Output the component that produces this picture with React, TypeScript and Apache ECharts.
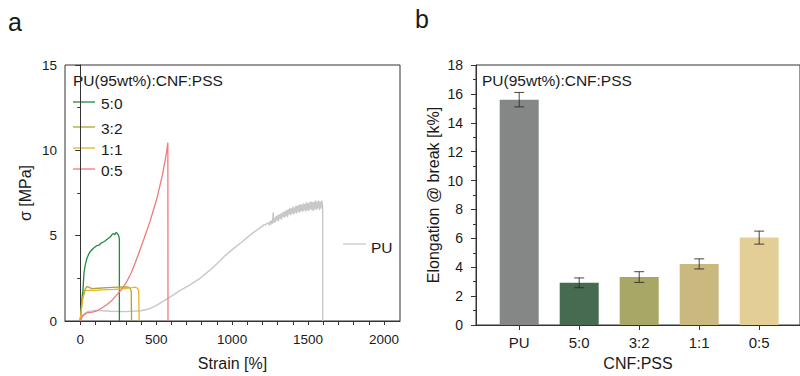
import React, { useEffect, useRef } from "react";
import * as echarts from "echarts";

// ---------- Panel a: stress-strain curves ----------
const curve50: number[][] = [
  [0, 0], [5, 0.5], [10, 1.1], [15, 1.6], [18, 1.75], [22, 2.4], [26, 2.9], [35, 3.35], [44, 3.66],
  [55, 3.9], [66, 4.07], [85, 4.25], [110, 4.42], [125, 4.45], [140, 4.58], [153, 4.63], [165, 4.7],
  [180, 4.8], [197, 4.92], [210, 5.08], [219, 5.12], [228, 5.05], [235, 5.18], [241, 5.17],
  [248, 5.08], [252, 5.02], [256, 4.9], [258, 4.8], [258, 0],
];
const curve32: number[][] = [
  [0, 0], [8, 0.8], [15, 1.3], [25, 1.7], [35, 1.9], [44, 2.02], [55, 1.98], [77, 1.9],
  [120, 1.92], [180, 1.95], [250, 1.98], [300, 2.0], [318, 1.99], [330, 1.9], [336, 1.72],
  [338, 0],
];
const curve11: number[][] = [
  [0, 0], [6, 0.5], [12, 1.0], [20, 1.4], [33, 1.78], [50, 1.8], [100, 1.8], [150, 1.82],
  [220, 1.85], [290, 1.9], [340, 1.95], [362, 1.98], [377, 1.92], [385, 1.75], [388, 0],
];
const curve05: number[][] = [
  [0, 0], [15, 0.3], [44, 0.47], [80, 0.52], [110, 0.6], [140, 0.75], [175, 0.95],
  [210, 1.22], [241, 1.53], [270, 1.82], [300, 2.2], [335, 2.8], [373, 3.66], [417, 4.75],
  [460, 5.85], [504, 7.15], [540, 8.5], [560, 9.45], [570, 10.0], [577, 10.45], [578, 0],
];
const curvePU: number[][] = [
  [0, 0], [10, 0.2], [20, 0.35], [35, 0.48], [50, 0.55], [100, 0.62], [150, 0.6], [200, 0.57],
  [300, 0.55], [400, 0.6], [450, 0.7], [500, 0.9], [570, 1.3], [614, 1.53], [650, 1.75],
  [720, 2.1], [789, 2.5], [850, 2.95], [900, 3.35], [950, 3.8], [1009, 4.24], [1060, 4.6],
  [1100, 4.9], [1150, 5.25], [1160, 5.3], [1170, 5.38], [1180, 5.42], [1190, 5.52], [1200, 5.55],
  [1210, 5.65], [1220, 5.62], [1230, 5.75],
  [1240, 5.72], [1245, 5.6], [1250, 5.85], [1255, 5.65], [1260, 5.9], [1265, 5.7], [1270, 6.35],
  [1275, 5.75], [1280, 6.05], [1285, 5.8], [1290, 6.15], [1295, 5.9], [1300, 6.2], [1305, 5.85],
  [1310, 6.25], [1315, 6.0], [1320, 6.3], [1325, 5.95], [1330, 6.35], [1335, 6.1], [1340, 6.4],
  [1345, 6.05], [1350, 6.45], [1355, 6.15], [1360, 6.5], [1365, 6.1], [1370, 6.55], [1375, 6.25],
  [1380, 6.6], [1385, 6.2], [1390, 6.6], [1395, 6.3], [1400, 6.7], [1405, 6.25], [1410, 6.65],
  [1415, 6.35], [1420, 6.75], [1425, 6.3], [1430, 6.75], [1435, 6.4], [1440, 6.8], [1445, 6.35],
  [1450, 6.85], [1455, 6.45], [1460, 6.8], [1465, 6.4], [1470, 6.9], [1475, 6.5], [1480, 6.85],
  [1485, 6.4], [1490, 6.95], [1495, 6.5], [1500, 6.9], [1505, 6.45], [1510, 6.95], [1515, 6.55],
  [1520, 7.0], [1525, 6.5], [1530, 6.95], [1535, 6.45], [1540, 7.0], [1545, 6.55], [1550, 7.05],
  [1555, 6.5], [1560, 7.0], [1565, 6.6], [1570, 7.05], [1575, 6.5], [1580, 7.0], [1585, 6.6],
  [1590, 7.05], [1596, 6.7], [1596, 0],
];
const curveNames = ["5:0", "3:2", "1:1", "0:5", "PU"];
const curveColors = ["#1e8c3c", "#a9a632", "#e6b52a", "#f07a7a", "#c8c8c8"];
const strainLabels = [0, 500, 1000, 1500, 2000];
const strainMinorTicks = [0, 100, 200, 300, 400, 500, 600, 700, 800, 900, 1000, 1100, 1200, 1300, 1400, 1500, 1600, 1700, 1800, 1900, 2000];

// ---------- Panel b: elongation at break ----------
const categories = ["PU", "5:0", "3:2", "1:1", "0:5"];
const elongation = [15.6, 2.92, 3.32, 4.23, 6.05];
const elongationErr = [0.5, 0.34, 0.37, 0.35, 0.45];
const barColors = ["#858786", "#476b50", "#a8a765", "#c9b97e", "#e3cf96"];

const FONT = "'Liberation Sans', Arial, sans-serif";
const TXT = "#1a1a1a";
const AX = "#333333";

export default function App() {
  const ref = useRef<HTMLDivElement>(null);
  useEffect(() => {
    document.body.style.margin = "0";
    const chart = echarts.init(ref.current!, null, { renderer: "svg" });
    const curves = [curve50, curve32, curve11, curve05, curvePU];

    const lineSeries = curves.map((c, i) => ({
      type: "line",
      name: curveNames[i],
      xAxisIndex: 0,
      yAxisIndex: 0,
      data: c,
      showSymbol: false,
      symbol: "none",
      lineStyle: { color: curveColors[i], width: i === 4 ? 1.4 : 1.3 },
      z: i === 4 ? 1 : 2 + i,
    }));

    const barData = elongation.map((v, i) => ({
      value: [i + 1, v],
      itemStyle: { color: barColors[i] },
    }));
    const errData = elongation.map((v, i) => [i + 1, v, elongationErr[i]]);

    const axisCommon = {
      axisLine: { show: true, lineStyle: { color: AX, width: 1 } },
      splitLine: { show: false },
    };

    chart.setOption({
      animation: false,
      textStyle: { fontFamily: FONT },
      grid: [
        { left: 65, top: 65, width: 335, height: 258, show: true, borderColor: AX, borderWidth: 1, containLabel: false },
        { left: 476, top: 65, width: 330, height: 265, show: true, borderColor: AX, borderWidth: 1, containLabel: false },
      ],
      xAxis: [
        {
          type: "value",
          gridIndex: 0,
          min: -100,
          max: 2105,
          ...axisCommon,
          axisTick: { show: true, length: 4, lineStyle: { color: AX }, customValues: strainMinorTicks },
          axisLabel: {
            customValues: strainLabels,
            formatter: (v: number) => String(v),
            color: TXT,
            fontSize: 13.5,
            margin: 11,
            fontFamily: FONT,
          },
          name: "Strain [%]",
          nameLocation: "middle",
          nameGap: 34,
          nameTextStyle: { color: TXT, fontSize: 16, fontFamily: FONT },
        },
        {
          type: "value",
          gridIndex: 1,
          min: 0.28,
          max: 5.68,
          ...axisCommon,
          axisTick: { show: true, length: 5, lineStyle: { color: AX }, customValues: [1, 2, 3, 4, 5] },
          axisLabel: {
            customValues: [1, 2, 3, 4, 5],
            formatter: (v: number) => categories[Math.round(v) - 1] ?? "",
            color: TXT,
            fontSize: 15,
            margin: 10,
            fontFamily: FONT,
          },
          name: "CNF:PSS",
          nameLocation: "middle",
          nameGap: 30,
          nameTextStyle: { color: TXT, fontSize: 16, fontFamily: FONT },
        },
      ],
      yAxis: [
        {
          type: "value",
          gridIndex: 0,
          min: 0,
          max: 15,
          interval: 5,
          ...axisCommon,
          axisTick: { show: true, length: 5, lineStyle: { color: AX } },
          minorTick: { show: true, splitNumber: 2, length: 3, lineStyle: { color: AX } },
          minorSplitLine: { show: false },
          axisLabel: { color: TXT, fontSize: 13.5, margin: 8, fontFamily: FONT },
          name: "σ [MPa]",
          nameLocation: "middle",
          nameGap: 32,
          nameTextStyle: { color: TXT, fontSize: 16, fontFamily: FONT },
        },
        {
          type: "value",
          gridIndex: 1,
          min: 0,
          max: 18,
          interval: 2,
          ...axisCommon,
          axisTick: { show: true, length: 5, lineStyle: { color: AX } },
          minorTick: { show: true, splitNumber: 2, length: 3, lineStyle: { color: AX } },
          minorSplitLine: { show: false },
          axisLabel: { color: TXT, fontSize: 14, margin: 13, fontFamily: FONT },
          name: "Elongation @ break [k%]",
          nameLocation: "middle",
          nameGap: 35,
          nameTextStyle: { color: TXT, fontSize: 16, fontFamily: FONT },
        },
      ],
      series: [
        ...lineSeries,
        {
          type: "bar",
          xAxisIndex: 1,
          yAxisIndex: 1,
          data: barData,
          barWidth: 39,
          z: 2,
        },
        {
          type: "custom",
          xAxisIndex: 1,
          yAxisIndex: 1,
          data: errData,
          z: 5,
          renderItem: (params: any, api: any) => {
            const x = api.value(0);
            const y = api.value(1);
            const e = api.value(2);
            const top = api.coord([x, y + e]);
            const bot = api.coord([x, y - e]);
            const hw = 5;
            const style = { stroke: "rgba(40,40,40,0.85)", lineWidth: 1 };
            return {
              type: "group",
              children: [
                { type: "line", shape: { x1: top[0], y1: top[1], x2: bot[0], y2: bot[1] }, style },
                { type: "line", shape: { x1: top[0] - hw, y1: top[1], x2: top[0] + hw, y2: top[1] }, style },
                { type: "line", shape: { x1: bot[0] - hw, y1: bot[1], x2: bot[0] + hw, y2: bot[1] }, style },
              ],
            };
          },
        },
      ],
      graphic: [
        { type: "text", left: 8, top: 9, style: { text: "a", fontSize: 25, fill: TXT, fontFamily: FONT } },
        { type: "text", left: 415, top: 6, style: { text: "b", fontSize: 25, fill: TXT, fontFamily: FONT } },
        { type: "text", x: 73, y: 80, style: { text: "PU(95wt%):CNF:PSS", fontSize: 15.5, fill: TXT, fontFamily: FONT, verticalAlign: "middle" } },
        { type: "text", x: 482, y: 80, style: { text: "PU(95wt%):CNF:PSS", fontSize: 15.5, fill: TXT, fontFamily: FONT, verticalAlign: "middle" } },
        ...[102, 127, 148, 169].flatMap((yy, i) => [
          { type: "line", shape: { x1: 73, y1: yy, x2: 95, y2: yy }, style: { stroke: curveColors[i], lineWidth: 1.3 } },
          { type: "text", x: 101, y: yy + 1, style: { text: curveNames[i], fontSize: 15.5, fill: TXT, fontFamily: FONT, verticalAlign: "middle" } },
        ]),
        { type: "line", shape: { x1: 343, y1: 244, x2: 366, y2: 244 }, style: { stroke: curveColors[4], lineWidth: 1.3 } },
        { type: "text", x: 371, y: 247, style: { text: "PU", fontSize: 15.5, fill: TXT, fontFamily: FONT, verticalAlign: "middle" } },
      ],
    });
    return () => chart.dispose();
  }, []);
  return <div ref={ref} style={{ width: 800, height: 376 }} />;
}
